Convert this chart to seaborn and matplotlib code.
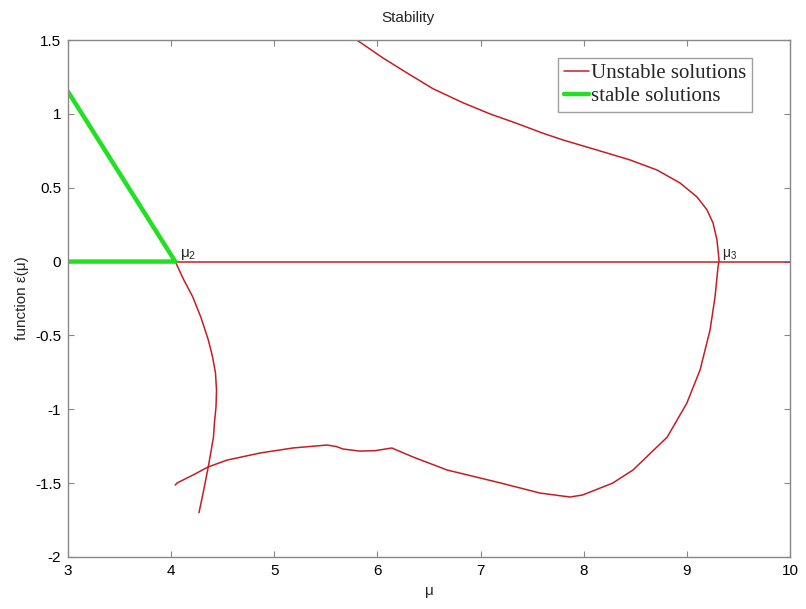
import matplotlib
matplotlib.use("Agg")
import matplotlib.pyplot as plt
import seaborn as sns
import pandas as pd

# Stable branch: sloped part and trivial part
stable_mu = [3.0, 4.04, 4.04, 3.0]
stable_eps = [1.15, 0.0, 0.0, 0.0]

# Trivial unstable branch (eps = 0)
trivial_mu = [4.04, 10.0]
trivial_eps = [0.0, 0.0]

# Branch leaving mu2 downward
branch_a_mu = [4.04, 4.12, 4.21, 4.29, 4.36, 4.40, 4.43, 4.44, 4.435, 4.42, 4.41, 4.36, 4.31, 4.27]
branch_a_eps = [0.0, -0.12, -0.24, -0.38, -0.53, -0.64, -0.755, -0.87, -0.985, -1.09, -1.19, -1.39, -1.567, -1.70]

# Large loop through mu3
loop_mu = [4.04, 4.057, 4.212, 4.357, 4.542, 4.862, 5.18, 5.51, 5.60, 5.666, 5.83, 5.98, 6.14,
           6.345, 6.675, 7.16, 7.576, 7.867, 7.99, 8.28, 8.478, 8.81, 9.00, 9.128, 9.225, 9.273,
           9.30, 9.312, 9.292, 9.254, 9.196, 9.099, 8.934, 8.71, 8.449, 8.129, 7.80, 7.60,
           7.353, 7.09, 6.83, 6.539, 6.287, 6.054, 5.80, 5.75]
loop_eps = [-1.513, -1.499, -1.445, -1.391, -1.344, -1.296, -1.262, -1.242, -1.252, -1.269, -1.283, -1.280, -1.262,
            -1.323, -1.411, -1.493, -1.567, -1.594, -1.58, -1.50, -1.411, -1.188, -0.958, -0.734, -0.463, -0.240,
            -0.05, 0.010, 0.146, 0.261, 0.349, 0.437, 0.532, 0.620, 0.688, 0.755, 0.823, 0.870,
            0.935, 1.000, 1.075, 1.170, 1.277, 1.378, 1.50, 1.53]

RED = "#c41e24"
GREEN = "#22e022"
GRAY = "#888888"

sns.set_style("white")
plt.rcParams["font.family"] = ["Liberation Sans", "DejaVu Sans"]
plt.rcParams["mathtext.fontset"] = "custom"
plt.rcParams["mathtext.rm"] = "Liberation Sans"

fig = plt.figure(figsize=(8.06, 6.09), dpi=100)
ax = fig.add_axes([68 / 806, 1 - 557 / 609, (790 - 68) / 806, (557 - 40) / 609])

def draw(mu, eps, **kw):
    df = pd.DataFrame({"mu": mu, "eps": eps})
    sns.lineplot(data=df, x="mu", y="eps", sort=False, estimator=None, ax=ax, **kw)

draw(trivial_mu, trivial_eps, color=RED, linewidth=1.1, label="Unstable solutions")
draw(branch_a_mu, branch_a_eps, color=RED, linewidth=1.1)
draw(loop_mu, loop_eps, color=RED, linewidth=1.1)
draw(stable_mu, stable_eps, color=GREEN, linewidth=3.2, label="stable solutions")

ax.text(4.09, 0.0, "μ$_\\mathregular{2}$", fontsize=11, ha="left", va="bottom")
ax.text(9.34, 0.0, "μ$_\\mathregular{3}$", fontsize=10, ha="left", va="bottom")

ax.set_xlim(3, 10)
ax.set_ylim(-2, 1.5)
ax.set_xticks(range(3, 11))
ax.set_yticks([-2, -1.5, -1, -0.5, 0, 0.5, 1, 1.5])
ax.set_yticklabels(["-2", "-1.5", "-1", "-0.5", "0", "0.5", "1", "1.5"])
ax.tick_params(direction="in", length=4, labelsize=11, colors=GRAY, labelcolor="black",
               top=True, right=True, bottom=True, left=True, pad=5)
for s in ax.spines.values():
    s.set_color(GRAY)
    s.set_linewidth(1.0)

ax.set_xlabel("μ", fontsize=11)
ax.set_ylabel("function ε(μ)", fontsize=11)
ax.set_title("Stability", fontsize=11, x=0.471, pad=13)

leg = ax.legend(loc="upper right", bbox_to_anchor=(0.948, 0.966), frameon=True, fancybox=False,
                prop={"family": "Liberation Serif", "size": 15}, handlelength=1.2,
                handletextpad=0.1, borderpad=0.3, labelspacing=0.15, borderaxespad=0)
leg.get_frame().set_edgecolor(GRAY)
leg.get_frame().set_linewidth(1.0)

fig.savefig("out.png", dpi=100)
